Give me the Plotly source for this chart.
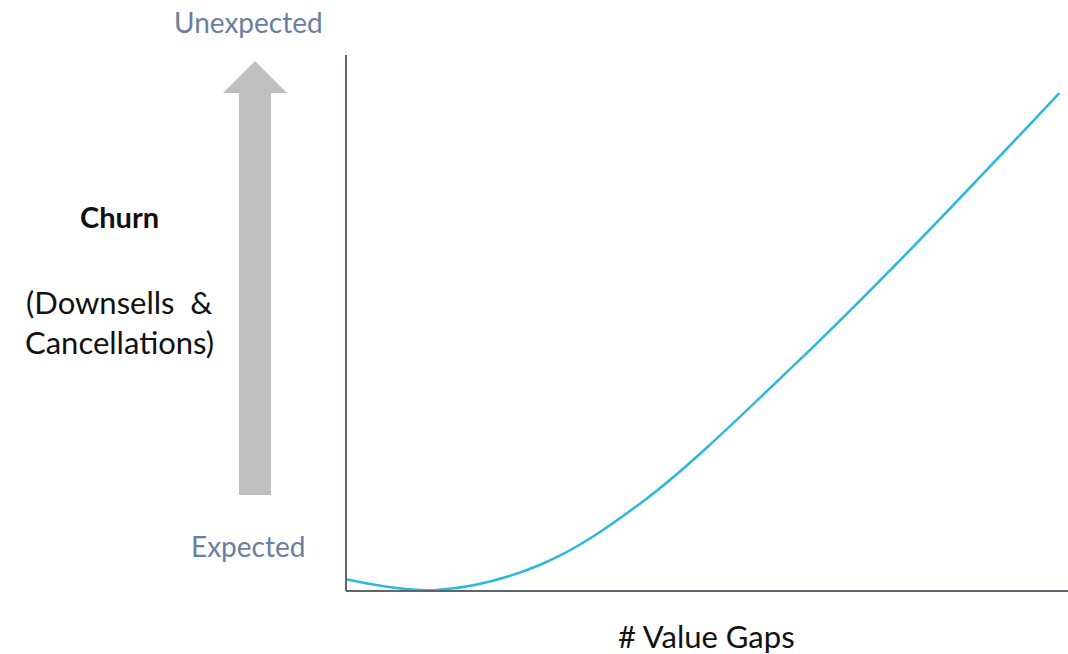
import plotly.graph_objects as go

# Data, relative units 0-100
value_gaps = [0, 12.6, 26.9, 41.4, 62.5, 78.1, 98.8]
churn = [2.2, 0.2, 4.9, 17.0, 42.7, 63.6, 92.9]

W, H = 1068, 654
L, R, T, B = 346, 0, 55, 63
PW, PH = W - L - R, H - T - B

def px(x):
    return (x - L) / PW

def py(y):
    return (H - B - y) / PH

fig = go.Figure()
fig.add_trace(go.Scatter(
    x=value_gaps, y=churn, mode="lines",
    line=dict(color="#2bb8dc", width=2.5, shape="spline", smoothing=1.0),
    hoverinfo="skip", showlegend=False,
))

axis_color = "#5c6670"
fig.update_xaxes(range=[0, 100], showgrid=False, zeroline=False, showticklabels=False,
                 ticks="", showline=False, fixedrange=True)
fig.update_yaxes(range=[0, 100], showgrid=False, zeroline=False, showticklabels=False,
                 ticks="", showline=False, fixedrange=True)

shapes = [
    # axes
    dict(type="line", xref="paper", yref="paper", x0=0, y0=0, x1=0, y1=1,
         line=dict(color=axis_color, width=2)),
    dict(type="line", xref="paper", yref="paper", x0=0, y0=0, x1=1, y1=0,
         line=dict(color=axis_color, width=2)),
    # gray arrow
    dict(type="path", xref="paper", yref="paper",
         path=(f"M {px(239)} {py(495)} L {px(239)} {py(93)} L {px(223)} {py(93)} "
               f"L {px(255)} {py(61)} L {px(287)} {py(93)} L {px(271)} {py(93)} "
               f"L {px(271)} {py(495)} Z"),
         fillcolor="#bfbfbf", line=dict(width=0)),
]

font_family = "Lato, 'Open Sans', sans-serif"
slate = "#6a7ea2"
ann = [
    dict(text="Unexpected", x=px(248), y=py(22), font=dict(size=28, color=slate)),
    dict(text="Expected", x=px(248), y=py(546), font=dict(size=28, color=slate)),
    dict(text="<b>Churn</b>", x=px(119), y=py(216), font=dict(size=29, color="#111111")),
    dict(text="(Downsells  &", x=px(119), y=py(302), font=dict(size=31, color="#111111")),
    dict(text="Cancellations)", x=px(119), y=py(342), font=dict(size=31, color="#111111")),
    dict(text="# Value Gaps", x=px(706), y=py(636), font=dict(size=31, color="#111111")),
]
for a in ann:
    a.update(xref="paper", yref="paper", xanchor="center", yanchor="middle",
             showarrow=False)
    a["font"]["family"] = font_family

fig.update_layout(
    width=W, height=H,
    margin=dict(l=L, r=R, t=T, b=B),
    paper_bgcolor="white", plot_bgcolor="white",
    shapes=shapes, annotations=ann,
)

fig.write_html("out.html", config={"displayModeBar": False})
